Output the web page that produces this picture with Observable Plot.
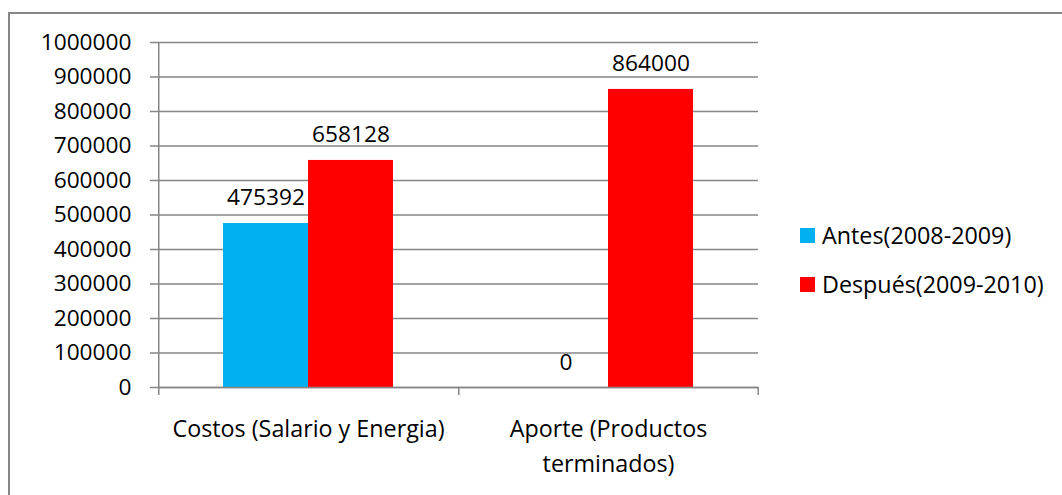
<!DOCTYPE html>
<html>
<head>
<meta charset="utf-8">
<script src="https://cdn.jsdelivr.net/npm/d3@7"></script>
<script src="https://cdn.jsdelivr.net/npm/@observablehq/plot@0.6"></script>
<style>
  html, body { margin: 0; padding: 0; background: #fff; }
  #chart { position: relative; width: 1062px; height: 495px; overflow: hidden; font-family: "Open Sans", sans-serif; }
  #border { position: absolute; left: 8px; top: 12px; width: 2000px; height: 2000px;
            border-top: 2px solid #868686; border-left: 2px solid #868686; }
  #chart svg { position: absolute; left: 0; top: 0; }
  #legend { position: absolute; left: 800px; top: 220px; font-size: 23.3px; color: #000; }
  .item { display: flex; align-items: center; height: 30px; margin-bottom: 19px; white-space: nowrap; }
  .swatch { width: 15px; height: 15px; margin-right: 7px; flex: none; }
</style>
</head>
<body>
<div id="chart"><div id="border"></div></div>
<script>
// Category names along the x axis and their displayed (wrapped) labels
const categories = ["Costos (Salario y Energia)", "Aporte (Productos terminados)"];
const categoryLabels = ["Costos (Salario y Energia)", "Aporte (Productos\nterminados)"];
// Series and their values per category
const seriesNames = ["Antes(2008-2009)", "Después(2009-2010)"];
const antes = [475392, 0];
const despues = [658128, 864000];
const seriesColors = ["#00B0F0", "#FF0000"];
// Value axis ticks
const yTicks = [0, 100000, 200000, 300000, 400000, 500000, 600000, 700000, 800000, 900000, 1000000];

const rows = [];
categories.forEach((c, i) => {
  rows.push({cat: c, series: seriesNames[0], value: antes[i]});
  rows.push({cat: c, series: seriesNames[1], value: despues[i]});
});

const W = 1062, H = 495;
const mL = 158, mR = 304, mT = 42, mB = 108;
const grey = "#868686";
const padOuter = 0.754;
// distance from the first bar's centre to its category's left edge
const facetW = (W - mL - mR) / categories.length;
const step = facetW / (seriesNames.length + 2 * padOuter);
const edgeOffset = padOuter * step + step / 2;

const plot = Plot.plot({
  width: W, height: H,
  marginLeft: mL, marginRight: mR, marginTop: mT, marginBottom: mB,
  style: {fontFamily: "'Open Sans', sans-serif", fontSize: "22.7px", color: "#000", background: "transparent", overflow: "visible"},
  fx: {domain: categories, padding: 0, axis: null},
  x: {domain: seriesNames, paddingInner: 0, paddingOuter: padOuter, align: 0.5, axis: null},
  y: {domain: [0, 1000000], axis: null},
  color: {domain: seriesNames, range: seriesColors},
  marks: [
    Plot.gridY(yTicks, {stroke: grey, strokeOpacity: 1, strokeWidth: 1.5}),
    Plot.axisY(yTicks, {tickSize: 8, tickPadding: 19, stroke: grey, strokeWidth: 1.5, tickFormat: d => String(d), label: null, fill: "#000"}),
    Plot.barY(rows, {fx: "cat", x: "series", y: "value", fill: "series"}),
    Plot.text(rows, {fx: "cat", x: "series", y: "value", text: d => String(d.value), lineAnchor: "bottom", dy: -18, fill: "#000"}),
    // value axis line, extending down as the first category tick
    Plot.ruleX([categories[0]], {fx: d => d, x: () => seriesNames[0], y1: () => 1000000, y2: () => 0, insetBottom: -8, dx: -edgeOffset, stroke: grey, strokeWidth: 1.5}),
    // category boundary ticks
    Plot.ruleX(categories.slice(1), {fx: d => d, x: () => seriesNames[0], y1: () => 0, y2: () => 0, insetBottom: -8, dx: -edgeOffset, stroke: grey, strokeWidth: 1.5}),
    Plot.ruleX([categories[categories.length - 1]], {fx: d => d, x: () => seriesNames[seriesNames.length - 1], y1: () => 0, y2: () => 0, insetBottom: -8, dx: edgeOffset, stroke: grey, strokeWidth: 1.5}),
    Plot.ruleY([0], {stroke: grey, strokeWidth: 1.5}),
    Plot.axisFx({anchor: "bottom", tickSize: 0, tickPadding: 24, label: null, lineHeight: 1.52, fontSize: 23.3,
                 tickFormat: d => categoryLabels[categories.indexOf(d)], fill: "#000"})
  ]
});
document.getElementById("chart").appendChild(plot);

// Legend to the right of the plot area
const legend = document.createElement("div");
legend.id = "legend";
seriesNames.forEach((name, i) => {
  const item = document.createElement("div");
  item.className = "item";
  const sw = document.createElement("span");
  sw.className = "swatch";
  sw.style.background = seriesColors[i];
  const label = document.createElement("span");
  label.textContent = name;
  item.append(sw, label);
  legend.appendChild(item);
});
document.getElementById("chart").appendChild(legend);
</script>
</body>
</html>
